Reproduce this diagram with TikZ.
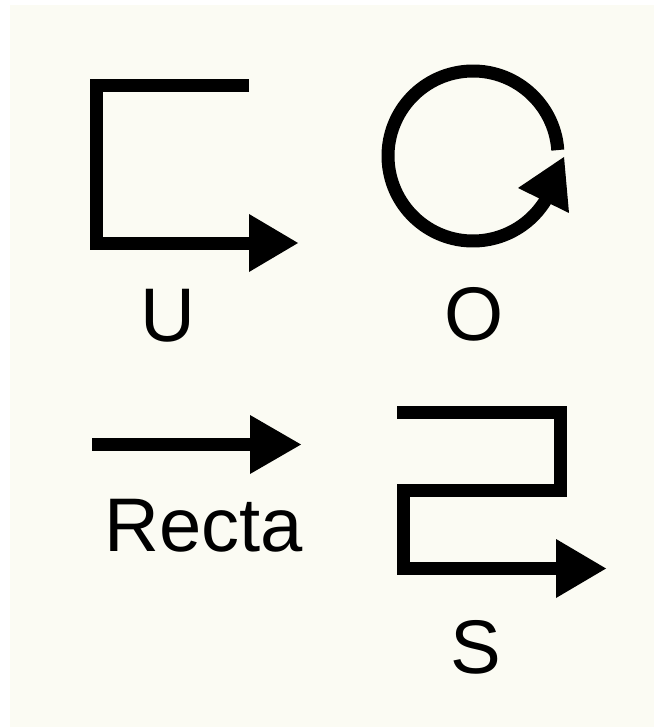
\documentclass[tikz,border=0pt]{standalone}
\usepackage{fontspec}
\setmainfont{Liberation Sans}
\definecolor{paper}{RGB}{251,251,243}
\definecolor{ink}{RGB}{0,0,0}
\tikzset{
  stroke/.style={draw=ink, line width=13pt, line join=miter, line cap=butt},
  head/.style={fill=ink, draw=none},
  lbl/.style={anchor=base, inner sep=0pt, text=ink, font=\fontsize{76}{80}\selectfont}
}
\begin{document}
\begin{tikzpicture}[x=1pt,y=-1pt]
\useasboundingbox (0,0) rectangle (654,727);
\fill[paper] (10,5) rectangle (654,727);
% U
\coordinate (u1) at (249,86);
\coordinate (u2) at (96,86);
\coordinate (u3) at (96,243);
\coordinate (u4) at (250,243);
\draw[stroke] (u1) -- (u2) -- (u3) -- (u4);
\fill[head] (249,214) -- (298,243) -- (249,272) -- cycle;
\node[lbl] (lu) at (168,341) {U};
% O
\coordinate (oc) at (473,156);
\draw[stroke] (oc) ++(-4:85) arc[start angle=-4, end angle=-330, radius=85];
\fill[head] (564,157) -- (569,213) -- (518,188) -- cycle;
\node[lbl] (lo) at (474,340) {O};
% Recta
\coordinate (r1) at (92,444.5);
\coordinate (r2) at (251,444.5);
\draw[stroke] (r1) -- (r2);
\fill[head] (250,415) -- (301,444.5) -- (250,474) -- cycle;
\node[lbl] (lr) at (203.5,551) {Recta};
% S
\coordinate (s1) at (397,412.5);
\coordinate (s2) at (560.5,412.5);
\coordinate (s3) at (560.5,490.5);
\coordinate (s4) at (403,490.5);
\coordinate (s5) at (403,568.5);
\coordinate (s6) at (557,568.5);
\draw[stroke] (s1) -- (s2) -- (s3) -- (s4) -- (s5) -- (s6);
\fill[head] (556,539) -- (606,568.5) -- (556,598) -- cycle;
\node[lbl] (ls) at (476,673) {S};
\end{tikzpicture}
\end{document}
